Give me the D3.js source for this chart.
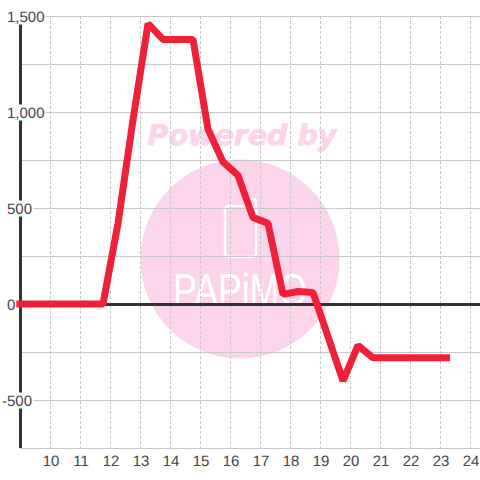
<!DOCTYPE html>
<html lang="en">
<head>
<meta charset="UTF-8">
<title>Chart</title>
<script src="https://d3js.org/d3.v7.min.js"></script>
<style>
  html, body { margin: 0; padding: 0; background: #fff; }
  svg { display: block; }
  text { font-family: "Liberation Sans", Arial, sans-serif; text-rendering: geometricPrecision; }
</style>
</head>
<body>
<div id="chart"></div>
<script>
const hours = [8.75, 9.25, 9.75, 10.25, 10.75, 11.25, 11.75, 12.25, 12.75, 13.25, 13.75, 14.25, 14.75, 15.25, 15.75, 16.25, 16.75, 17.25, 17.75, 18.25, 18.75, 19.25, 19.75, 20.25, 20.75, 21.25, 21.75, 22.25, 22.75, 23.32];
const values = [0, 0, 0, 0, 0, 0, 0, 420, 960, 1460, 1378, 1378, 1378, 910, 740, 670, 450, 420, 50, 65, 60, -170, -400, -216, -280, -280, -280, -280, -280, -280];
const xTicks = [10, 11, 12, 13, 14, 15, 16, 17, 18, 19, 20, 21, 22, 23, 24];
const yGrid = [1500, 1250, 1000, 750, 500, 250, 0, -250, -500, -750];
const yLabels = [1500, 1000, 500, 0, -500];

const width = 480, height = 480;
const plotLeft = 20, plotTop = 16, plotBottom = 448;

const x = d3.scaleLinear().domain([9, 24]).range([20.5, 470.5]);
const y = d3.scaleLinear().domain([-750, 1500]).range([plotBottom, plotTop]);

const svg = d3.select("#chart").append("svg")
    .attr("width", width)
    .attr("height", height);

// watermark sits behind everything
const mark = svg.append("g");
const pink = "#fcd5ed";
mark.append("circle").attr("cx", 240).attr("cy", 259).attr("r", 99.5).attr("fill", pink);
mark.append("text")
    .attr("x", 242).attr("y", 145)
    .attr("text-anchor", "middle")
    .attr("fill", pink)
    .attr("stroke", pink)
    .attr("stroke-width", 0.8)
    .style("font-family", "'DejaVu Sans'")
    .style("font-weight", "bold")
    .style("font-style", "oblique")
    .style("font-size", "28.5px")
    .text("Powered by");
mark.append("rect")
    .attr("x", 225).attr("y", 206)
    .attr("width", 31).attr("height", 51).attr("rx", 4)
    .attr("fill", "none").attr("stroke", "#fff").attr("stroke-width", 2.5);
mark.append("rect")
    .attr("x", 247).attr("y", 199)
    .attr("width", 9).attr("height", 8).attr("rx", 2)
    .attr("fill", "none").attr("stroke", "#fff").attr("stroke-width", 2);
mark.append("text")
    .attr("x", 173).attr("y", 306)
    .attr("fill", "#fff")
    .attr("textLength", 134)
    .attr("lengthAdjust", "spacingAndGlyphs")
    .style("font-family", "'Liberation Sans'")
    .style("font-size", "46px")
    .text("PAPiMO");

// grid
svg.append("g").selectAll("line")
    .data(yGrid)
    .join("line")
    .attr("x1", plotLeft).attr("x2", width)
    .attr("y1", d => y(d) + 0.5).attr("y2", d => y(d) + 0.5)
    .attr("stroke", "#c8c8c8");
svg.append("g").selectAll("line")
    .data(xTicks)
    .join("line")
    .attr("x1", d => x(d)).attr("x2", d => x(d))
    .attr("y1", plotTop).attr("y2", plotBottom)
    .attr("stroke", "#c8c8c8")
    .attr("stroke-dasharray", "3,2");

// axes
svg.append("line")
    .attr("x1", 20.5).attr("x2", 20.5)
    .attr("y1", plotTop).attr("y2", plotBottom)
    .attr("stroke", "#333").attr("stroke-width", 3);
svg.append("line")
    .attr("x1", plotLeft).attr("x2", width)
    .attr("y1", y(0) + 0.5).attr("y2", y(0) + 0.5)
    .attr("stroke", "#333").attr("stroke-width", 3);

// series
const line = d3.line().x((d, i) => x(hours[i])).y(d => y(d));
svg.append("path")
    .datum(values)
    .attr("d", line)
    .attr("fill", "none")
    .attr("stroke", "#ef2038")
    .attr("stroke-width", 7)
    .attr("stroke-linejoin", "bevel");

const yAxis = svg.append("g")
    .call(d3.axisLeft(y).tickValues(yLabels).tickSize(0)
        .tickFormat(d => d3.format(",")(d).replace("\u2212", "-")));
yAxis.select(".domain").remove();
yAxis.selectAll("text")
    .attr("x", d => d < 0 ? 2 : 7)
    .attr("y", 1)
    .attr("text-anchor", "start")
    .attr("fill", "#444")
    .style("font-family", "'Liberation Sans'")
    .style("font-size", "15px");
// labels knock out the lines behind them
yAxis.selectAll(".tick").each(function () {
    const b = this.querySelector("text").getBBox();
    d3.select(this).insert("rect", "text")
        .attr("x", b.x - 1).attr("y", -8)
        .attr("width", b.width + 2).attr("height", 16)
        .attr("fill", "#fff");
});

const xAxis = svg.append("g")
    .attr("transform", `translate(0,${plotBottom})`)
    .call(d3.axisBottom(x).tickValues(xTicks).tickSize(0).tickPadding(7));
xAxis.select(".domain").remove();
xAxis.selectAll("text")
    .attr("fill", "#444")
    .style("font-family", "'Liberation Sans'")
    .style("font-size", "15px");
</script>
</body>
</html>
